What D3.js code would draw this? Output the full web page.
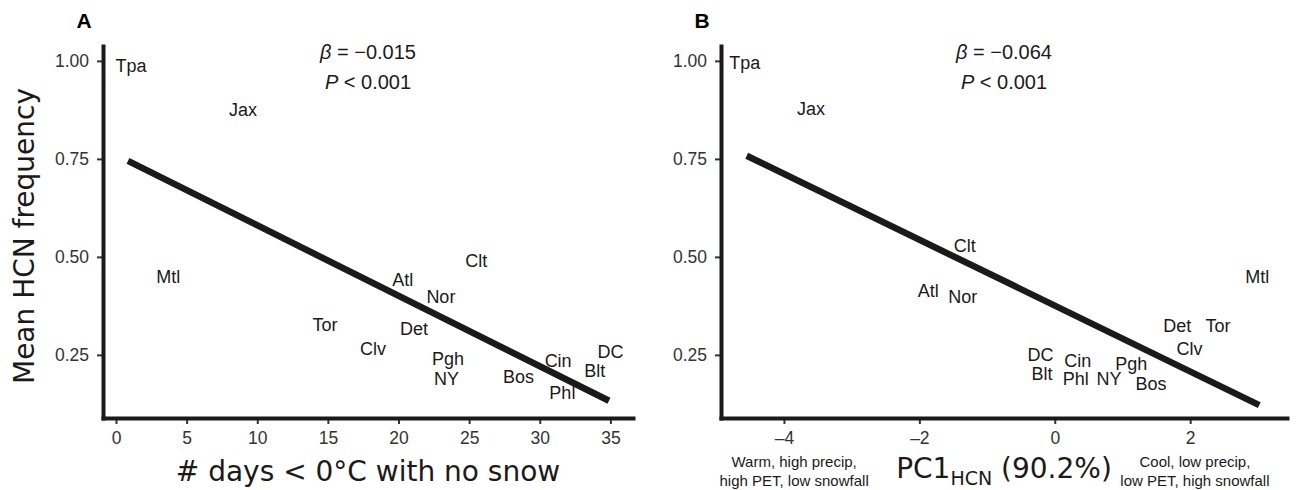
<!DOCTYPE html>
<html>
<head>
<meta charset="utf-8">
<script src="https://cdn.jsdelivr.net/npm/d3@7"></script>
<style>
  body { margin: 0; background: #fff; }
  svg { display: block; }
</style>
</head>
<body>
<svg id="chart" width="1297" height="490"></svg>
<script>
// city labels (label positions)
const cities = ['Tpa', 'Jax', 'Mtl', 'Tor', 'Clv', 'Atl', 'Nor', 'Det', 'Clt', 'Pgh', 'NY', 'Bos', 'Cin', 'Phl', 'DC', 'Blt'];

// panel A: # days < 0 C with no snow vs mean HCN frequency
const daysA = [1.06, 9.0, 3.7, 14.8, 18.2, 20.3, 23.0, 21.1, 25.5, 23.5, 23.4, 28.5, 31.3, 31.6, 35.0, 33.9];
const hcnA = [0.987, 0.875, 0.449, 0.327, 0.265, 0.441, 0.398, 0.316, 0.492, 0.240, 0.189, 0.194, 0.235, 0.153, 0.258, 0.209];
const fitA = [[0.85, 0.745], [34.9, 0.133]];

// panel B: PC1 (HCN) vs mean HCN frequency
const pc1B = [-4.58, -3.6, 2.99, 2.41, 1.99, -1.87, -1.36, 1.81, -1.33, 1.13, 0.80, 1.42, 0.34, 0.31, -0.21, -0.19];
const hcnB = [0.997, 0.879, 0.451, 0.326, 0.267, 0.415, 0.40, 0.326, 0.528, 0.228, 0.190, 0.177, 0.235, 0.190, 0.25, 0.203];
const fitB = [[-4.55, 0.758], [3.02, 0.122]];

const yTicks = [0.25, 0.50, 0.75, 1.00];
const xTicksA = [0, 5, 10, 15, 20, 25, 30, 35];
const xTicksB = [-4, -2, 0, 2];

const yDomain = [0.089, 1.038];

const svg = d3.select('#chart');
const sansA = '"Liberation Sans", Arial, sans-serif';
const sansD = '"DejaVu Sans", sans-serif';

function drawPanel(opts) {
  const { left, right, top, bottom, xDomain, xTicks, xs, ys, fit, letter, beta, xFmt } = opts;
  const x = d3.scaleLinear().domain(xDomain).range([left, right]);
  const y = d3.scaleLinear().domain(yDomain).range([bottom, top]);
  const g = svg.append('g');

  // y axis
  const gy = g.append('g')
    .attr('transform', `translate(${left},0)`)
    .call(d3.axisLeft(y).tickValues(yTicks).tickFormat(d3.format('.2f')).tickSize(6).tickSizeOuter(0).tickPadding(8));
  // x axis
  const gx = g.append('g')
    .attr('transform', `translate(0,${bottom})`)
    .call(d3.axisBottom(x).tickValues(xTicks).tickFormat(xFmt).tickSize(6).tickSizeOuter(0).tickPadding(8));

  [gx, gy].forEach(a => {
    a.select('.domain').attr('stroke', '#1a1a1a').attr('stroke-width', 4).attr('stroke-linecap', 'square');
    a.selectAll('.tick line').attr('stroke', '#333').attr('stroke-width', 2);
    a.selectAll('.tick text')
      .attr('fill', '#333')
      .style('font-family', sansA)
      .style('font-size', '17.5px');
  });
  gx.select('.domain').raise();
  gy.select('.domain').raise();

  // regression line
  g.append('line')
    .attr('x1', x(fit[0][0])).attr('y1', y(fit[0][1]))
    .attr('x2', x(fit[1][0])).attr('y2', y(fit[1][1]))
    .attr('stroke', '#1a1a1a')
    .attr('stroke-width', 6.5);

  // city labels
  g.selectAll('text.city')
    .data(cities)
    .enter().append('text')
    .attr('class', 'city')
    .attr('x', (d, i) => x(xs[i]))
    .attr('y', (d, i) => y(ys[i]))
    .attr('dy', '0.36em')
    .attr('text-anchor', 'middle')
    .style('font-family', sansA)
    .style('font-size', '18px')
    .attr('fill', '#1a1a1a')
    .text(d => d);

  // panel letter
  g.append('text')
    .attr('x', left - 19)
    .attr('y', 28)
    .attr('text-anchor', 'middle')
    .style('font-family', sansA)
    .style('font-size', '21px')
    .style('font-weight', 'bold')
    .text(letter);

  // stats annotation
  const cx = (left + right) / 2;
  const t1 = g.append('text')
    .attr('x', cx).attr('y', 59)
    .attr('text-anchor', 'middle')
    .style('font-family', sansA)
    .style('font-size', '20px')
    .attr('fill', '#1a1a1a');
  t1.append('tspan').style('font-style', 'italic').text('β');
  t1.append('tspan').text(' = ' + beta);
  const t2 = g.append('text')
    .attr('x', cx).attr('y', 89)
    .attr('text-anchor', 'middle')
    .style('font-family', sansA)
    .style('font-size', '20px')
    .attr('fill', '#1a1a1a');
  t2.append('tspan').style('font-style', 'italic').text('P');
  t2.append('tspan').text(' < 0.001');

  return { x, y, g, cx };
}

const minusFmt = d => (d < 0 ? '\u2013' + Math.abs(d) : String(d));

const pA = drawPanel({
  left: 103, right: 633, top: 46, bottom: 418,
  xDomain: [-0.92, 36.6], xTicks: xTicksA, xs: daysA, ys: hcnA, fit: fitA,
  letter: 'A', beta: '\u22120.015', xFmt: d3.format('d')
});

const pB = drawPanel({
  left: 721, right: 1287, top: 46, bottom: 418,
  xDomain: [-4.93, 3.43], xTicks: xTicksB, xs: pc1B, ys: hcnB, fit: fitB,
  letter: 'B', beta: '\u22120.064', xFmt: minusFmt
});

// y axis title
svg.append('text')
  .attr('transform', 'translate(34,236) rotate(-90)')
  .attr('text-anchor', 'middle')
  .style('font-family', sansD)
  .style('font-size', '28px')
  .attr('fill', '#1a1a1a')
  .text('Mean HCN frequency');

// x axis titles
svg.append('text')
  .attr('x', pA.cx).attr('y', 481)
  .attr('text-anchor', 'middle')
  .style('font-family', sansD)
  .style('font-size', '28px')
  .attr('fill', '#1a1a1a')
  .text('# days < 0°C with no snow');

const tb = svg.append('text')
  .attr('x', pB.cx).attr('y', 478)
  .attr('text-anchor', 'middle')
  .style('font-family', sansD)
  .attr('fill', '#1a1a1a');
tb.append('tspan').style('font-size', '28px').text('PC1');
tb.append('tspan').style('font-size', '19px').attr('dy', 7).text('HCN');
tb.append('tspan').style('font-size', '28px').attr('dy', -7).text(' (90.2%)');

// axis end notes (panel B)
const notes = [
  { at: -3.85, lines: ['Warm, high precip,', 'high PET, low snowfall'] },
  { at: 2.07, lines: ['Cool, low precip,', 'low PET, high snowfall'] }
];
notes.forEach(n => {
  n.lines.forEach((l, i) => {
    svg.append('text')
      .attr('x', pB.x(n.at))
      .attr('y', 467 + i * 18.5)
      .attr('text-anchor', 'middle')
      .style('font-family', sansA)
      .style('font-size', '15px')
      .attr('fill', '#1a1a1a')
      .text(l);
  });
});
</script>
</body>
</html>
